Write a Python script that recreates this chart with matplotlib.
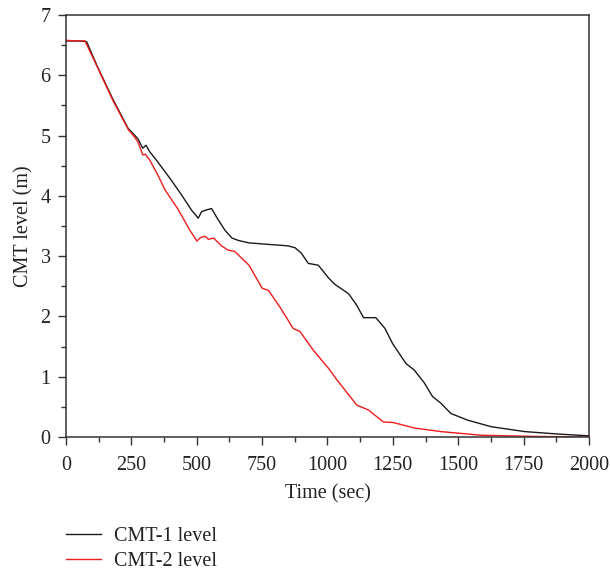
import matplotlib
matplotlib.use("Agg")
import matplotlib.pyplot as plt
from matplotlib.ticker import MultipleLocator

plt.rcParams["font.family"] = ["Liberation Serif", "DejaVu Serif"]

# CMT-1 level (black)
t1 = [0, 40, 79, 120, 180, 238, 251, 275, 294, 306, 321, 350, 379, 398, 440,
      481, 506, 519, 540, 557, 580, 608, 635, 660, 700, 760, 822, 850, 876,
      900, 927, 965, 1004, 1029, 1080, 1110, 1138, 1185, 1220, 1249, 1300,
      1332, 1370, 1402, 1434, 1472, 1536, 1627, 1755, 1880, 2000]
l1 = [6.57, 6.57, 6.56, 6.15, 5.6, 5.12, 5.06, 4.95, 4.79, 4.84, 4.73, 4.57,
      4.40, 4.29, 4.03, 3.76, 3.63, 3.74, 3.77, 3.79, 3.62, 3.43, 3.30, 3.26,
      3.22, 3.20, 3.18, 3.17, 3.14, 3.05, 2.88, 2.85, 2.64, 2.53, 2.38, 2.20,
      1.98, 1.98, 1.80, 1.55, 1.22, 1.11, 0.90, 0.67, 0.56, 0.39, 0.28, 0.17,
      0.09, 0.05, 0.02]

# CMT-2 level (red)
t2 = [0, 40, 73, 120, 180, 240, 251, 275, 294, 304, 321, 350, 379, 430, 474,
      501, 515, 532, 545, 565, 595, 620, 645, 700, 750, 775, 822, 869, 895,
      946, 1004, 1036, 1112, 1156, 1214, 1252, 1332, 1434, 1587, 1800, 2000]
l2 = [6.58, 6.57, 6.57, 6.14, 5.58, 5.09, 5.04, 4.90, 4.68, 4.69, 4.59, 4.36,
      4.10, 3.77, 3.43, 3.25, 3.31, 3.33, 3.28, 3.30, 3.17, 3.10, 3.08, 2.85,
      2.47, 2.43, 2.13, 1.80, 1.75, 1.44, 1.14, 0.95, 0.53, 0.45, 0.25, 0.24,
      0.15, 0.09, 0.03, 0.01, 0.0]

fig = plt.figure(figsize=(6.1, 5.73), dpi=100)
ax = fig.add_axes([0.108, 0.2373, 0.8576, 0.7365])

ax.plot(t1, l1, color="#1a1a1a", lw=1.0, label="CMT-1 level")
ax.plot(t2, l2, color="#ee1c1c", lw=1.0, label="CMT-2 level")

ax.set_xlim(0, 2000)
ax.set_ylim(0, 7)
ax.xaxis.set_major_locator(MultipleLocator(250))
ax.xaxis.set_minor_locator(MultipleLocator(125))
ax.yaxis.set_major_locator(MultipleLocator(1))
ax.yaxis.set_minor_locator(MultipleLocator(0.5))
ax.tick_params(which="both", direction="out", labelsize=14.5, width=1.0,
               colors="#333333", labelcolor="#222222")
ax.tick_params(which="major", length=6)
ax.tick_params(axis="x", which="major", pad=8)
ax.tick_params(axis="y", which="major", pad=5)
ax.tick_params(which="minor", length=3.5)
for s in ax.spines.values():
    s.set_linewidth(1.1)
    s.set_color("#333333")

ax.set_xlabel("Time (sec)", fontsize=14.5, color="#222222", labelpad=6)
ax.set_ylabel("CMT level (m)", fontsize=14.5, color="#222222", labelpad=5)

fig.legend(loc="upper left", bbox_to_anchor=(0.108, 0.081),
           frameon=False, fontsize=14.5, handlelength=1.75, handletextpad=0.65,
           labelspacing=0.3, borderpad=0, borderaxespad=0,
           labelcolor="#222222")

fig.savefig("out.png", dpi=100)
